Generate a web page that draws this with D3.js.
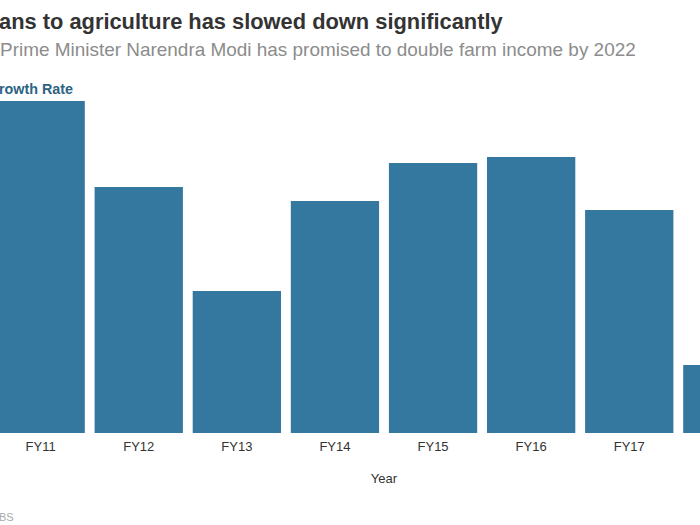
<!DOCTYPE html>
<html>
<head>
<meta charset="utf-8">
<script src="https://cdn.jsdelivr.net/npm/d3@7"></script>
<style>
html,body{margin:0;padding:0;background:#fff;overflow:hidden;}
svg{display:block;font-family:"Liberation Sans",Arial,sans-serif;}
</style>
</head>
<body>
<svg id="chart" width="700" height="525"></svg>
<script>
const categories = ["FY11","FY12","FY13","FY14","FY15","FY16","FY17","FY18"];
const growthRate = [16.6, 12.3, 7.1, 11.6, 13.5, 13.8, 11.15, 3.4];
const titleText = "ans to agriculture has slowed down significantly";
const subtitleText = "Prime Minister Narendra Modi has promised to double farm income by 2022";
const legendText = "rowth Rate";
const xTitle = "Year";
const sourceText = "BS";

const W = 700;
const svg = d3.select("#chart");
const baseY = 433;

const x = d3.scaleBand().domain(categories)
  .range([-8.4, 776.4]).paddingInner(0.1).paddingOuter(0.05);
const y = d3.scaleLinear().domain([0, 20]).range([baseY, 33]);

function fitText(sel, targetWidth) {
  const node = sel.node();
  const fs = parseFloat(sel.attr("font-size"));
  const w = node.getComputedTextLength();
  sel.attr("font-size", fs * targetWidth / w);
}

const t = svg.append("text").attr("x", -1).attr("y", 29)
  .attr("font-size", 20).attr("font-weight", "bold").attr("fill", "#333")
  .text(titleText);
fitText(t, 504);

const st = svg.append("text").attr("x", 0).attr("y", 56)
  .attr("font-size", 17).attr("fill", "#8c8c8c")
  .text(subtitleText);
fitText(st, 636);

const lg = svg.append("text").attr("x", -1).attr("y", 94)
  .attr("font-size", 13).attr("font-weight", "bold").attr("fill", "#2d6384")
  .text(legendText);
fitText(lg, 74);

svg.append("g").selectAll("rect").data(categories).join("rect")
  .attr("x", d => x(d))
  .attr("width", x.bandwidth())
  .attr("y", (d, i) => y(growthRate[i]))
  .attr("height", (d, i) => y(0) - y(growthRate[i]))
  .attr("fill", "#35789f");

const xAxis = svg.append("g").attr("transform", `translate(0,${baseY})`)
  .call(d3.axisBottom(x).tickSize(0).tickPadding(9));
xAxis.select(".domain").remove();
xAxis.selectAll("text").attr("font-size", 13).attr("fill", "#333")
  .attr("font-family", "'Liberation Sans',Arial,sans-serif");
// labels that fall outside the visible frame (the reference is a crop) are not shown
xAxis.selectAll(".tick").filter(d => x(d) + x.bandwidth() / 2 + 16 > W).remove();

svg.append("text").attr("x", (x.range()[0] + x.range()[1]) / 2).attr("y", 483)
  .attr("text-anchor", "middle").attr("font-size", 13).attr("fill", "#333")
  .text(xTitle);

svg.append("text").attr("x", -1).attr("y", 521)
  .attr("font-size", 11).attr("fill", "#aaa")
  .text(sourceText);
</script>
</body>
</html>
